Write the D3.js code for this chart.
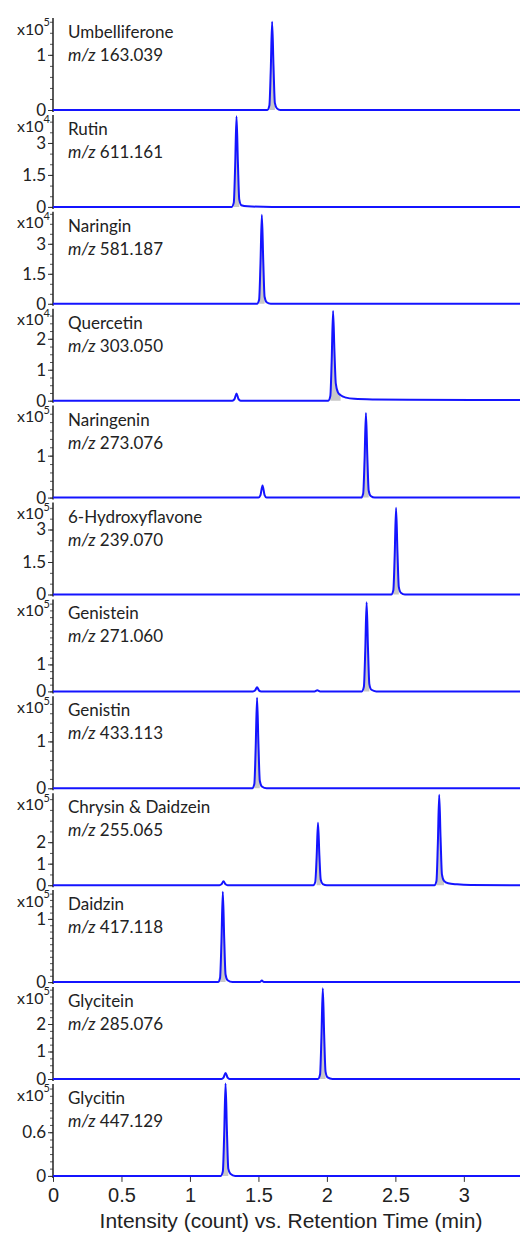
<!DOCTYPE html>
<meta charset="utf-8">
<style>
body { margin: 0; background: #fff; }
.lab { font-family: Lato, "Open Sans", sans-serif; fill: #222; }
.xax { font-family: "Liberation Sans", Arial, sans-serif; fill: #222; }
</style>
<body>
<script src="https://cdnjs.cloudflare.com/ajax/libs/d3/7.8.5/d3.min.js"></script>
<script>

// compounds, one panel each
var compounds = ["Umbelliferone", "Rutin", "Naringin", "Quercetin", "Naringenin", "6-Hydroxyflavone",
                 "Genistein", "Genistin", "Chrysin & Daidzein", "Daidzin", "Glycitein", "Glycitin"];
var mzValues = ["163.039", "611.161", "581.187", "303.050", "273.076", "239.070",
                "271.060", "433.113", "255.065", "417.118", "285.076", "447.129"];
var exponents = ["5", "4", "4", "4", "5", "5", "5", "5", "5", "5", "5", "5"];
// top of each panel's intensity axis (in units of x10^n)
var yMaxes = [1.65, 4.27, 4.55, 2.94, 2.17, 4.2, 3.37, 1.94, 4.23, 1.44, 3.31, 1.25];
var majorTicks = [[0, 1], [0, 1.5, 3], [0, 1.5, 3], [0, 1, 2], [0, 1], [0, 1.5, 3],
                  [0, 1], [0, 1], [0, 1, 2], [0, 1], [0, 1, 2], [0, 0.6]];
var minorSteps = [0.2, 0.5, 0.5, 0.25, 0.2, 0.5, 0.25, 0.2, 0.5, 0.1, 0.25, 0.1];
var xTicks = [0, 0.5, 1, 1.5, 2, 2.5, 3];

// traces: [retention time (min), intensity]
var umbelliferone = [[0,0],[1.565,0],[1.58,0.08],[1.59,0.72],[1.60,1.6],[1.61,0.8],[1.62,0.13],[1.635,0.03],[1.66,0],[3.41,0]];
var rutin = [[0,0],[1.305,0],[1.32,0.2],[1.33,1.9],[1.34,4.25],[1.35,2.1],[1.36,0.35],[1.375,0.08],[1.42,0.03],[1.6,0],[3.41,0]];
var naringin = [[0,0],[1.49,0],[1.505,0.2],[1.515,2.0],[1.525,4.45],[1.535,2.2],[1.545,0.35],[1.56,0.08],[1.59,0],[3.41,0]];
var quercetin = [[0,0],[1.31,0],[1.325,0.05],[1.34,0.23],[1.355,0.05],[1.37,0],[2.01,0],[2.025,0.15],[2.035,1.3],[2.045,2.9],
                 [2.055,1.6],[2.065,0.55],[2.08,0.28],[2.1,0.18],[2.14,0.1],[2.2,0.06],[2.35,0.04],[2.6,0.03],[3.41,0.02]];
var naringenin = [[0,0],[1.5,0],[1.515,0.06],[1.53,0.29],[1.545,0.06],[1.56,0],[2.25,0],[2.265,0.1],[2.275,0.9],[2.285,2.02],
                  [2.295,1.0],[2.305,0.17],[2.32,0.04],[2.35,0],[3.41,0]];
var hydroxyflavone = [[0,0],[2.47,0],[2.485,0.2],[2.495,1.8],[2.505,4.0],[2.515,2.0],[2.525,0.35],[2.54,0.08],[2.57,0],[3.41,0]];
var genistein = [[0,0],[1.46,0],[1.475,0.03],[1.49,0.15],[1.505,0.03],[1.52,0],[1.91,0],[1.93,0.04],[1.95,0],[2.255,0],
                 [2.27,0.17],[2.28,1.5],[2.29,3.3],[2.3,1.6],[2.31,0.27],[2.325,0.06],[2.36,0],[3.41,0]];
var genistin = [[0,0],[1.455,0],[1.47,0.09],[1.48,0.87],[1.49,1.93],[1.5,0.95],[1.51,0.16],[1.525,0.04],[1.56,0],[3.41,0]];
var chrysinDaidzein = [[0,0],[1.215,0],[1.23,0.04],[1.245,0.18],[1.26,0.04],[1.275,0],[1.9,0],[1.915,0.15],[1.925,1.3],
                       [1.935,2.9],[1.945,1.4],[1.955,0.25],[1.97,0.05],[2.0,0],[2.785,0],[2.8,0.2],[2.81,1.9],[2.82,4.2],
                       [2.83,2.2],[2.84,0.5],[2.855,0.2],[2.885,0.09],[2.95,0.04],[3.05,0.01],[3.41,0]];
var daidzin = [[0,0],[1.205,0],[1.22,0.07],[1.23,0.64],[1.24,1.43],[1.25,0.7],[1.26,0.12],[1.275,0.03],[1.31,0],
               [1.51,0],[1.525,0.025],[1.54,0],[3.41,0]];
var glycitein = [[0,0],[1.23,0],[1.245,0.05],[1.26,0.22],[1.275,0.05],[1.29,0],[1.935,0],[1.95,0.16],[1.96,1.5],[1.97,3.3],
                 [1.98,1.6],[1.99,0.27],[2.005,0.06],[2.04,0],[3.41,0]];
var glycitin = [[0,0],[1.225,0],[1.24,0.06],[1.25,0.57],[1.26,1.27],[1.27,0.62],[1.28,0.1],[1.295,0.03],[1.33,0],[3.41,0]];

var traces = [umbelliferone, rutin, naringin, quercetin, naringenin, hydroxyflavone,
              genistein, genistin, chrysinDaidzein, daidzin, glycitein, glycitin];

// layout
var W = 520, H = 1234;
var left = 53;
var firstBase = 110, step = 96.9, panelH = 91;

var svg = d3.select("body").append("svg")
    .attr("width", W)
    .attr("height", H);

svg.append("rect").attr("width", W).attr("height", H).attr("fill", "#fff");

var x = d3.scaleLinear().domain([0, 3.41]).range([left, W]);

compounds.forEach(function(name, i) {
  var base = firstBase + i * step;
  var y = d3.scaleLinear().domain([0, yMaxes[i]]).range([base, base - panelH]);
  var g = svg.append("g");

  // minor + major ticks on the intensity axis
  var minor = d3.range(0, yMaxes[i] + 1e-9, minorSteps[i]);
  g.append("g")
      .attr("transform", "translate(" + left + ",0)")
      .call(d3.axisLeft(y).tickValues(minor).tickSize(3).tickFormat(""))
      .call(function(a) { a.select(".domain").remove(); a.selectAll("line").attr("stroke", "#555"); });

  g.append("g")
      .attr("transform", "translate(" + left + ",0)")
      .call(d3.axisLeft(y).tickValues(majorTicks[i]).tickSize(5).tickPadding(2)
            .tickFormat(function(d) { return d; }))
      .call(function(a) {
        a.select(".domain").remove();
        a.selectAll("line").attr("stroke", "#333");
        a.selectAll("text").attr("class", "lab").attr("font-size", 17).attr("fill", "#222");
      });

  // axis line
  g.append("line")
      .attr("x1", left).attr("x2", left)
      .attr("y1", base - panelH - 1).attr("y2", base + 2)
      .attr("stroke", "#222").attr("stroke-width", 1.5);

  // x10^n label
  var ex = g.append("text")
      .attr("class", "lab")
      .attr("x", 50)
      .attr("y", base - 81)
      .attr("dy", "0.35em")
      .attr("text-anchor", "end")
      .attr("font-size", 16);
  ex.append("tspan").text("x10");
  ex.append("tspan").attr("font-size", 11).attr("dy", "-0.75em").text(exponents[i]);

  // gray area under the peaks, then trace
  var thr = 0.04 * yMaxes[i];
  g.append("path")
      .datum(traces[i])
      .attr("fill", "#c8c8c8")
      .attr("d", d3.area()
          .defined(function(d) { return d[1] > thr; })
          .x(function(d) { return x(d[0]); })
          .y0(y(0))
          .y1(function(d) { return y(d[1]); })
          .curve(d3.curveMonotoneX));

  g.append("path")
      .datum(traces[i])
      .attr("fill", "none")
      .attr("stroke", "#1414ff")
      .attr("stroke-width", 2)
      .attr("stroke-linejoin", "round")
      .attr("d", d3.line()
          .x(function(d) { return x(d[0]); })
          .y(function(d) { return y(d[1]); })
          .curve(d3.curveMonotoneX));

  // compound name and m/z
  g.append("text")
      .attr("class", "lab")
      .attr("x", 68)
      .attr("y", base - 72)
      .attr("font-size", 17)
      .text(name);

  var mz = g.append("text")
      .attr("class", "lab")
      .attr("x", 68)
      .attr("y", base - 49)
      .attr("font-size", 17);
  mz.append("tspan").attr("font-style", "italic").text("m/z");
  mz.append("tspan").text(" " + mzValues[i]);
});

// bottom time axis
var lastBase = firstBase + 11 * step;
svg.append("g")
    .attr("transform", "translate(0," + (lastBase + 1) + ")")
    .call(d3.axisBottom(x).tickValues(xTicks).tickSize(5).tickPadding(6)
          .tickFormat(function(d) { return d; }))
    .call(function(a) {
      a.select(".domain").remove();
      a.selectAll("line").attr("stroke", "#333");
      a.selectAll("text").attr("class", "xax").attr("font-size", 20).attr("fill", "#222");
    });

svg.append("text")
    .attr("class", "xax")
    .attr("x", 291)
    .attr("y", 1228)
    .attr("text-anchor", "middle")
    .attr("font-size", 21)
    .text("Intensity (count) vs. Retention Time (min)");

</script>
</body>
